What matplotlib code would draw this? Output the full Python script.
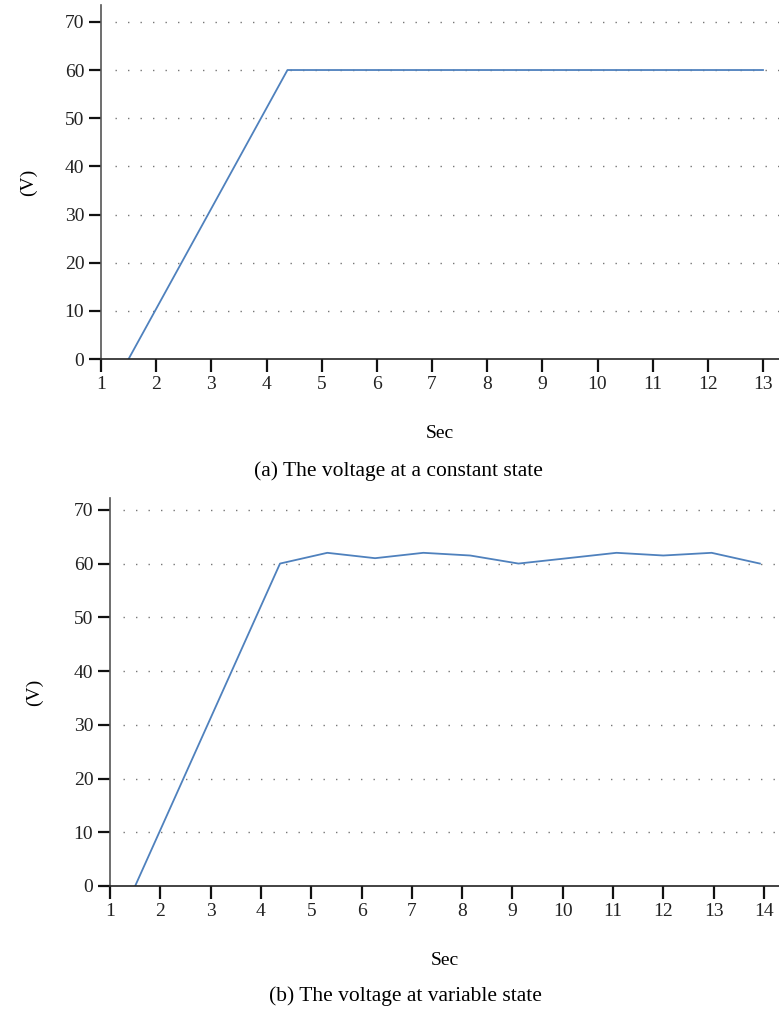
import matplotlib
matplotlib.use("Agg")
import matplotlib.pyplot as plt

# (a) constant state
sec_a = [1.5, 4.38, 13.0]
volt_a = [0, 60, 60]

# (b) variable state
sec_b = [1.5, 4.38, 5.32, 6.27, 7.23, 8.16, 9.12, 10.1, 11.07, 12.0, 12.96, 13.92]
volt_b = [0, 60, 62, 61, 62, 61.5, 60, 61, 62, 61.5, 62, 60]

yticks = [0, 10, 20, 30, 40, 50, 60, 70]
line_color = "#4f81bd"

plt.rcParams["font.family"] = ["Liberation Serif", "DejaVu Serif"]
plt.rcParams["font.size"] = 14

W, H = 779, 1011
fig = plt.figure(figsize=(W / 100, H / 100), dpi=100)


def px(x0, y_top, x1, y_bot):
    # axes rectangle from pixel coords
    return [x0 / W, 1 - y_bot / H, (x1 - x0) / W, (y_bot - y_top) / H]


def style(ax, xmax, xticks, ymax, ypad):
    ax.set_xlim(1, xmax)
    ax.set_ylim(0, ymax)
    ax.set_xticks(xticks)
    ax.set_yticks(yticks)
    for s in ["top", "right"]:
        ax.spines[s].set_visible(False)
    ax.spines["left"].set_color("#555555")
    ax.spines["bottom"].set_color("#222222")
    ax.spines["left"].set_linewidth(1.2)
    ax.spines["bottom"].set_linewidth(1.2)
    ax.tick_params(direction="out", length=9, width=1.6, color="#111111",
                   labelsize=14, labelcolor="#222222", pad=3)
    for y in yticks[1:]:
        ax.axhline(y, xmin=0.02, color="#777777", lw=1.0,
                   linestyle=(0, (1, 8)), zorder=0)
    ax.set_ylabel("(V)", labelpad=ypad, fontsize=14)
    ax.set_xlabel("Sec", labelpad=23, fontsize=14)


ax1 = fig.add_axes(px(101, 5, 779, 359))
ax1.plot(sec_a, volt_a, color=line_color, lw=1.3)
style(ax1, 13.29, range(1, 14), 73.5, 20)
fig.text(398 / W, 1 - 471 / H, "(a) The voltage at a constant state",
         ha="center", va="center", fontsize=15.5)

ax2 = fig.add_axes(px(110, 498, 779, 886))
ax2.plot(sec_b, volt_b, color=line_color, lw=1.3)
style(ax2, 14.3, range(1, 15), 72.2, 22)
fig.text(405 / W, 1 - 996 / H, "(b) The voltage at variable state",
         ha="center", va="center", fontsize=15.5)

fig.savefig("out.png", dpi=100)
